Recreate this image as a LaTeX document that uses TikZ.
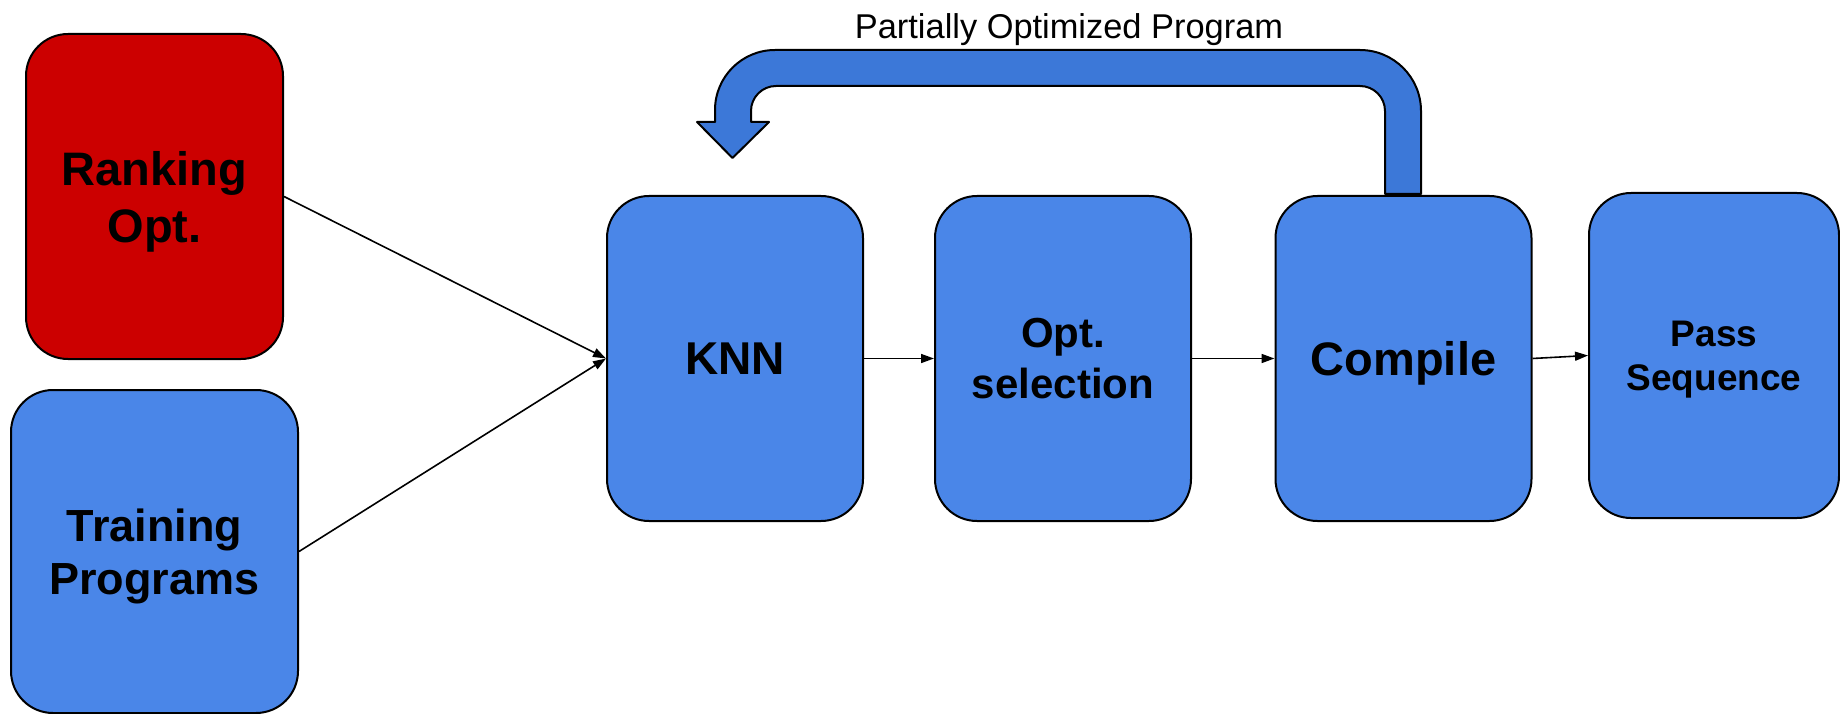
\documentclass[tikz,border=0pt]{standalone}
\usepackage{fontspec}
\setmainfont{Liberation Sans}
\usetikzlibrary{arrows.meta}
\definecolor{boxblue}{HTML}{4A86E8}
\definecolor{arrowblue}{HTML}{3C78D8}
\definecolor{boxred}{HTML}{CC0000}
\begin{document}
\begin{tikzpicture}[x=1pt,y=1pt,
  box/.style={draw=black, line width=2pt, rounded corners=42pt, fill=boxblue,
    minimum width=256pt, minimum height=325pt, inner sep=0pt, align=center, text depth=0pt},
  conn/.style={line width=1.6pt, -{Triangle[length=13pt,width=9pt]}},
  bent/.style={draw=black, line width=2pt, fill=arrowblue, line join=round},
]
\useasboundingbox (0,0) rectangle (1840,-714);
% feedback arrow
\draw[bent] (1385,-194) -- (1385,-111) arc[start angle=0,end angle=90,radius=25]
  -- (776,-86) arc[start angle=90,end angle=180,radius=25]
  -- (751,-122) -- (769,-122) -- (732.5,-158) -- (697,-122) -- (715,-122)
  -- (715,-110) arc[start angle=180,end angle=90,radius=60]
  -- (1360,-50) arc[start angle=90,end angle=0,radius=61]
  -- (1421,-194) -- cycle;
\node[font=\fontsize{34.4}{40}\selectfont, anchor=base, inner sep=0pt] (title) at (1069,-39) {Partially Optimized Program};
% boxes
\node[box, fill=boxred, minimum width=257pt, font=\bfseries\fontsize{47}{57}\selectfont] (rank) at (154.5,-196.5) {Ranking\\Opt.};
\node[box, minimum width=287pt, minimum height=323pt, font=\bfseries\fontsize{45}{53}\selectfont] (train) at (154.5,-551.5) {Training\\Programs};
\node[box, font=\bfseries\fontsize{46}{54}\selectfont] (knn) at (735,-358.5) {KNN};
\node[box, font=\bfseries\fontsize{42}{51}\selectfont] (optsel) at (1063,-358.5) {Opt.\\selection};
\node[box, font=\bfseries\fontsize{47}{56}\selectfont] (compile) at (1403.5,-358.5) {Compile};
\node[box, minimum width=250pt, font=\bfseries\fontsize{37}{44}\selectfont] (pass) at (1714,-355.5) {Pass\\Sequence};
% connectors
\draw[conn] (rank.east) -- (knn.west);
\draw[conn] (train.east) -- (knn.west);
\draw[conn] (knn.east) -- (optsel.west);
\draw[conn] (optsel.east) -- (compile.west);
\draw[conn] (compile.east) -- (pass.west);
\end{tikzpicture}
\end{document}
